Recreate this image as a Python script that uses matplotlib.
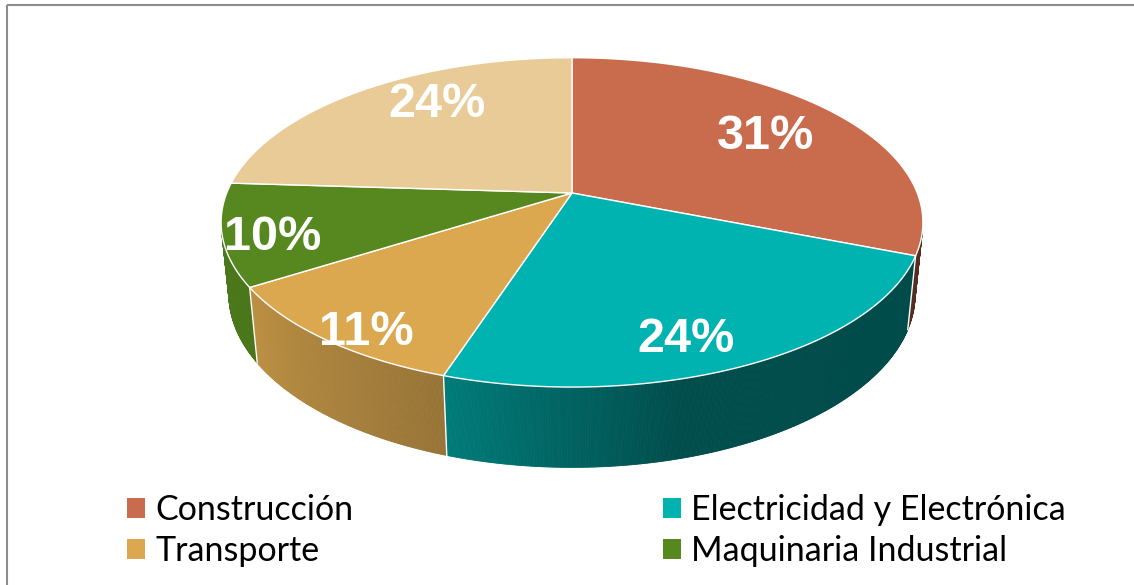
import numpy as np
import matplotlib.pyplot as plt
from matplotlib.patches import Polygon, Patch, Rectangle
from matplotlib.collections import PolyCollection
from matplotlib.colors import to_rgb

# data
categories = ["Construcción", "Electricidad y Electrónica", "Transporte",
              "Maquinaria Industrial", "Otros"]
shares = [31, 24, 11, 10, 24]
colors = ["#C96C4E", "#00B3B0", "#DBA84F", "#56881F", "#E8CB96"]
legend_idx = [0, 2, 1, 3]  # legend fills column-wise

# where the % labels sit inside each slice (fraction of sweep, fraction of radius)
label_frac = [0.51, 0.56, 0.42, 0.42, 0.60]
label_rad = [0.715, 0.83, 0.91, 0.865, 0.77]

# simple perspective camera (pixel space)
W, H = 1134, 585
CX, CY = 572, 193
F = 1716.0
DIST = 4.97
ELEV = np.radians(27.5)
THICK = 0.235
ce, se = np.cos(ELEV), np.sin(ELEV)


def project(phi, r=1.0, z=0.0):
    X = r * np.cos(phi)
    Y = r * np.sin(phi)
    depth = Y * ce - z * se + DIST
    up = Y * se + z * ce
    return CX + F * X / depth, CY - F * up / depth


def shade(phi_deg):
    return np.interp(phi_deg, [-180, -150, -108, -75, 0],
                     [0.90, 0.87, 0.69, 0.43, 0.42])


fig = plt.figure(figsize=(W / 100, H / 100), dpi=100)
ax = fig.add_axes([0, 0, 1, 1])
ax.set_xlim(0, W)
ax.set_ylim(H, 0)
ax.axis("off")

total = float(sum(shares))
bounds = np.concatenate([[0], np.cumsum(shares)]) / total * 360.0  # clockwise from 12 o'clock
vis_limit = -1.0 / (DIST * ce)

# side walls
for i, col in enumerate(colors):
    p0, p1 = 90 - bounds[i], 90 - bounds[i + 1]
    phis = np.linspace(p0, p1, max(int(abs(p1 - p0) * 4), 2))
    keep = np.sin(np.radians(phis)) < vis_limit
    phis = phis[keep]
    if len(phis) < 2:
        continue
    base = np.array(to_rgb(col))
    quads, fcs = [], []
    for a, b in zip(phis[:-1], phis[1:]):
        ra, rb = np.radians(a), np.radians(b)
        quads.append([project(ra), project(rb),
                      project(rb, z=-THICK), project(ra, z=-THICK)])
        fcs.append(np.clip(base * shade((a + b) / 2), 0, 1))
    ax.add_collection(PolyCollection(quads, facecolors=fcs, edgecolors=fcs,
                                     linewidths=0.6))

# white seams on the wall
for b in bounds:
    ph = np.radians(90 - b)
    if np.sin(ph) < vis_limit:
        xt, yt = project(ph)
        xb, yb = project(ph, z=-THICK)
        ax.plot([xt, xb], [yt, yb], color="white", lw=1.0)

# top face
for i, col in enumerate(colors):
    phis = np.radians(np.linspace(90 - bounds[i], 90 - bounds[i + 1], 200))
    xs, ys = project(phis)
    pts = np.column_stack([np.r_[CX, xs], np.r_[CY, ys]])
    ax.add_patch(Polygon(pts, closed=True, facecolor=col, edgecolor="white",
                         lw=1.0))

# percentage labels
for i, v in enumerate(shares):
    th = bounds[i] + label_frac[i] * (bounds[i + 1] - bounds[i])
    lx, ly = project(np.radians(90 - th), r=label_rad[i])
    ax.text(lx, ly + 2, f"{v}%", color="white", fontsize=35, fontweight="bold",
            family="Liberation Sans", ha="center", va="center")

# chart frame
ax.add_patch(Rectangle((7, 5), W + 20, H + 20, fill=False,
                       edgecolor="#8c8c8c", lw=1.5))

handles = [Patch(facecolor=colors[k]) for k in legend_idx]
labels = [categories[k] for k in legend_idx]
fig.legend(handles, labels, ncol=2, loc="upper left",
           bbox_to_anchor=(127 / W, 1 - 494 / H), frameon=False,
           prop={"family": "Lato", "size": 24.5},
           handlelength=0.53, handleheight=0.53, handletextpad=0.3,
           columnspacing=9.1, labelspacing=0.27, borderpad=0,
           borderaxespad=0)

fig.savefig("out.png", dpi=100)
